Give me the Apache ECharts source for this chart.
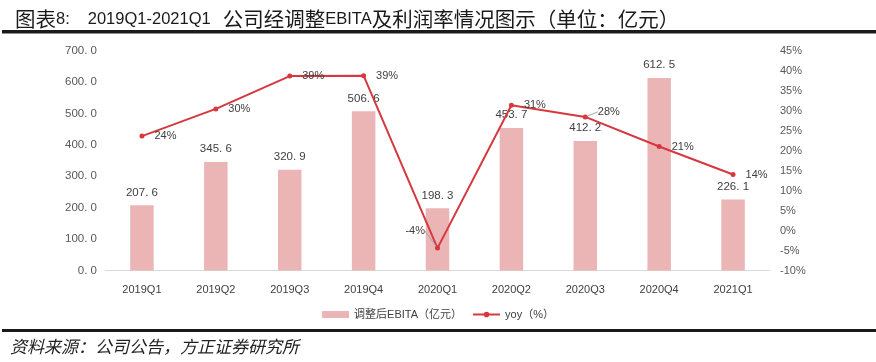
<!DOCTYPE html>
<html>
<head>
<meta charset="utf-8">
<script src="https://cdn.jsdelivr.net/npm/echarts@6/dist/echarts.min.js"></script>
<style>
html,body{margin:0;padding:0;background:#fff;}
#c{width:876px;height:362px;}
</style>
</head>
<body>
<div id="c"></div>
<script>
var categories = ['2019Q1','2019Q2','2019Q3','2019Q4','2020Q1','2020Q2','2020Q3','2020Q4','2021Q1'];
var ebita = [207.6, 345.6, 320.9, 506.6, 198.3, 453.7, 412.2, 612.5, 226.1];
var yoy = [23.6, 30.4, 38.6, 38.7, -4.4, 31.3, 28.4, 21.0, 14.0];
var leftTicks = {min: 0, max: 700, interval: 100};
var rightTicks = {min: -10, max: 45, interval: 5};
var barName = '调整后EBITA（亿元）';
var lineName = 'yoy（%）';

var chart = echarts.init(document.getElementById('c'), null, {renderer: 'canvas'});
var LAT = 'Liberation Sans, Noto Sans CJK SC, sans-serif';
var CJK = 'Noto Sans CJK SC, sans-serif';
function fmt1(v){ return Number(v).toFixed(1).replace('.', '. '); }

var leader = {show: true, lineStyle: {color: '#a6a6a6', width: 1}};
var lineData = yoy.map(function(v, i){
  var item = {value: v};
  if (i === 4) { item.label = {position: 'left', distance: 10}; item.labelLine = leader; }
  if (i === 6) { item.labelLine = leader; }
  return item;
});

var option = {
  animation: false,
  backgroundColor: '#fff',
  title: {
    left: 10, top: 4,
    text: '{c|图表}{l|8:}{l2|2019Q1-2021Q1}{c|公司经调整}{l|EBITA}{c|及利润率情况图示（单位：亿元）}',
    textStyle: {
      fontWeight: 'normal',
      rich: {
        c: {fontSize: 20.5, fontFamily: CJK, color: '#1a1a1a', fontWeight: 'normal'},
        l: {fontSize: 16.5, fontFamily: LAT, color: '#1a1a1a', fontWeight: 'normal'},
        l2: {fontSize: 16.5, fontFamily: LAT, color: '#1a1a1a', fontWeight: 'normal', padding: [0, 12, 0, 18]}
      }
    }
  },
  graphic: [
    {type: 'rect', left: 2, top: 30, shape: {width: 874, height: 3.5}, style: {fill: '#1a1a1a'}},
    {type: 'rect', left: 2, top: 329, shape: {width: 874, height: 3}, style: {fill: '#1a1a1a'}},
    {type: 'text', left: 10, top: 338, style: {text: '资料来源：公司公告，方正证券研究所', font: 'italic 17px Noto Sans CJK SC', fill: '#222'}}
  ],
  legend: {
    top: 304, left: 'center',
    itemGap: 10, itemWidth: 27, itemHeight: 7,
    textStyle: {fontSize: 11, color: '#404040', fontFamily: LAT},
    data: [
      {name: barName, icon: 'rect'},
      {name: lineName}
    ]
  },
  grid: {left: 105, right: 106, top: 50.5, bottom: 91.5},
  xAxis: {
    type: 'category', data: categories,
    axisLine: {lineStyle: {color: '#d9d9d9', width: 1}},
    axisTick: {show: false},
    axisLabel: {color: '#404040', fontSize: 11, margin: 14, fontFamily: LAT}
  },
  yAxis: [
    {
      type: 'value', min: leftTicks.min, max: leftTicks.max, interval: leftTicks.interval,
      axisLine: {show: false}, axisTick: {show: false}, splitLine: {show: false},
      axisLabel: {color: '#595959', fontSize: 11.5, margin: 8, fontFamily: LAT, formatter: fmt1}
    },
    {
      type: 'value', min: rightTicks.min, max: rightTicks.max, interval: rightTicks.interval,
      axisLine: {show: false}, axisTick: {show: false}, splitLine: {show: false},
      axisLabel: {color: '#595959', fontSize: 11, margin: 10, fontFamily: LAT, formatter: function(v){ return v + '%'; }}
    }
  ],
  series: [
    {
      name: barName, type: 'bar', data: ebita, barWidth: 23.5,
      itemStyle: {color: '#ECB5B5'},
      label: {show: true, position: 'top', distance: 7, color: '#404040', fontSize: 11.5, fontFamily: LAT, formatter: function(p){ return fmt1(p.value); }}
    },
    {
      name: lineName, type: 'line', yAxisIndex: 1, data: lineData,
      symbol: 'circle', symbolSize: 5,
      itemStyle: {color: '#D6383D'},
      lineStyle: {color: '#D6383D', width: 2},
      label: {show: true, position: 'right', distance: 10, color: '#404040', fontSize: 11, fontFamily: LAT,
        formatter: function(p){ return Math.round(p.value) + '%'; }},
      labelLine: {show: false},
      labelLayout: function(p){
        if (p.dataIndex === 4) return {dy: -17};
        if (p.dataIndex === 6) return {dy: -5};
        return {};
      }
    }
  ]
};
chart.setOption(option);
</script>
</body>
</html>
